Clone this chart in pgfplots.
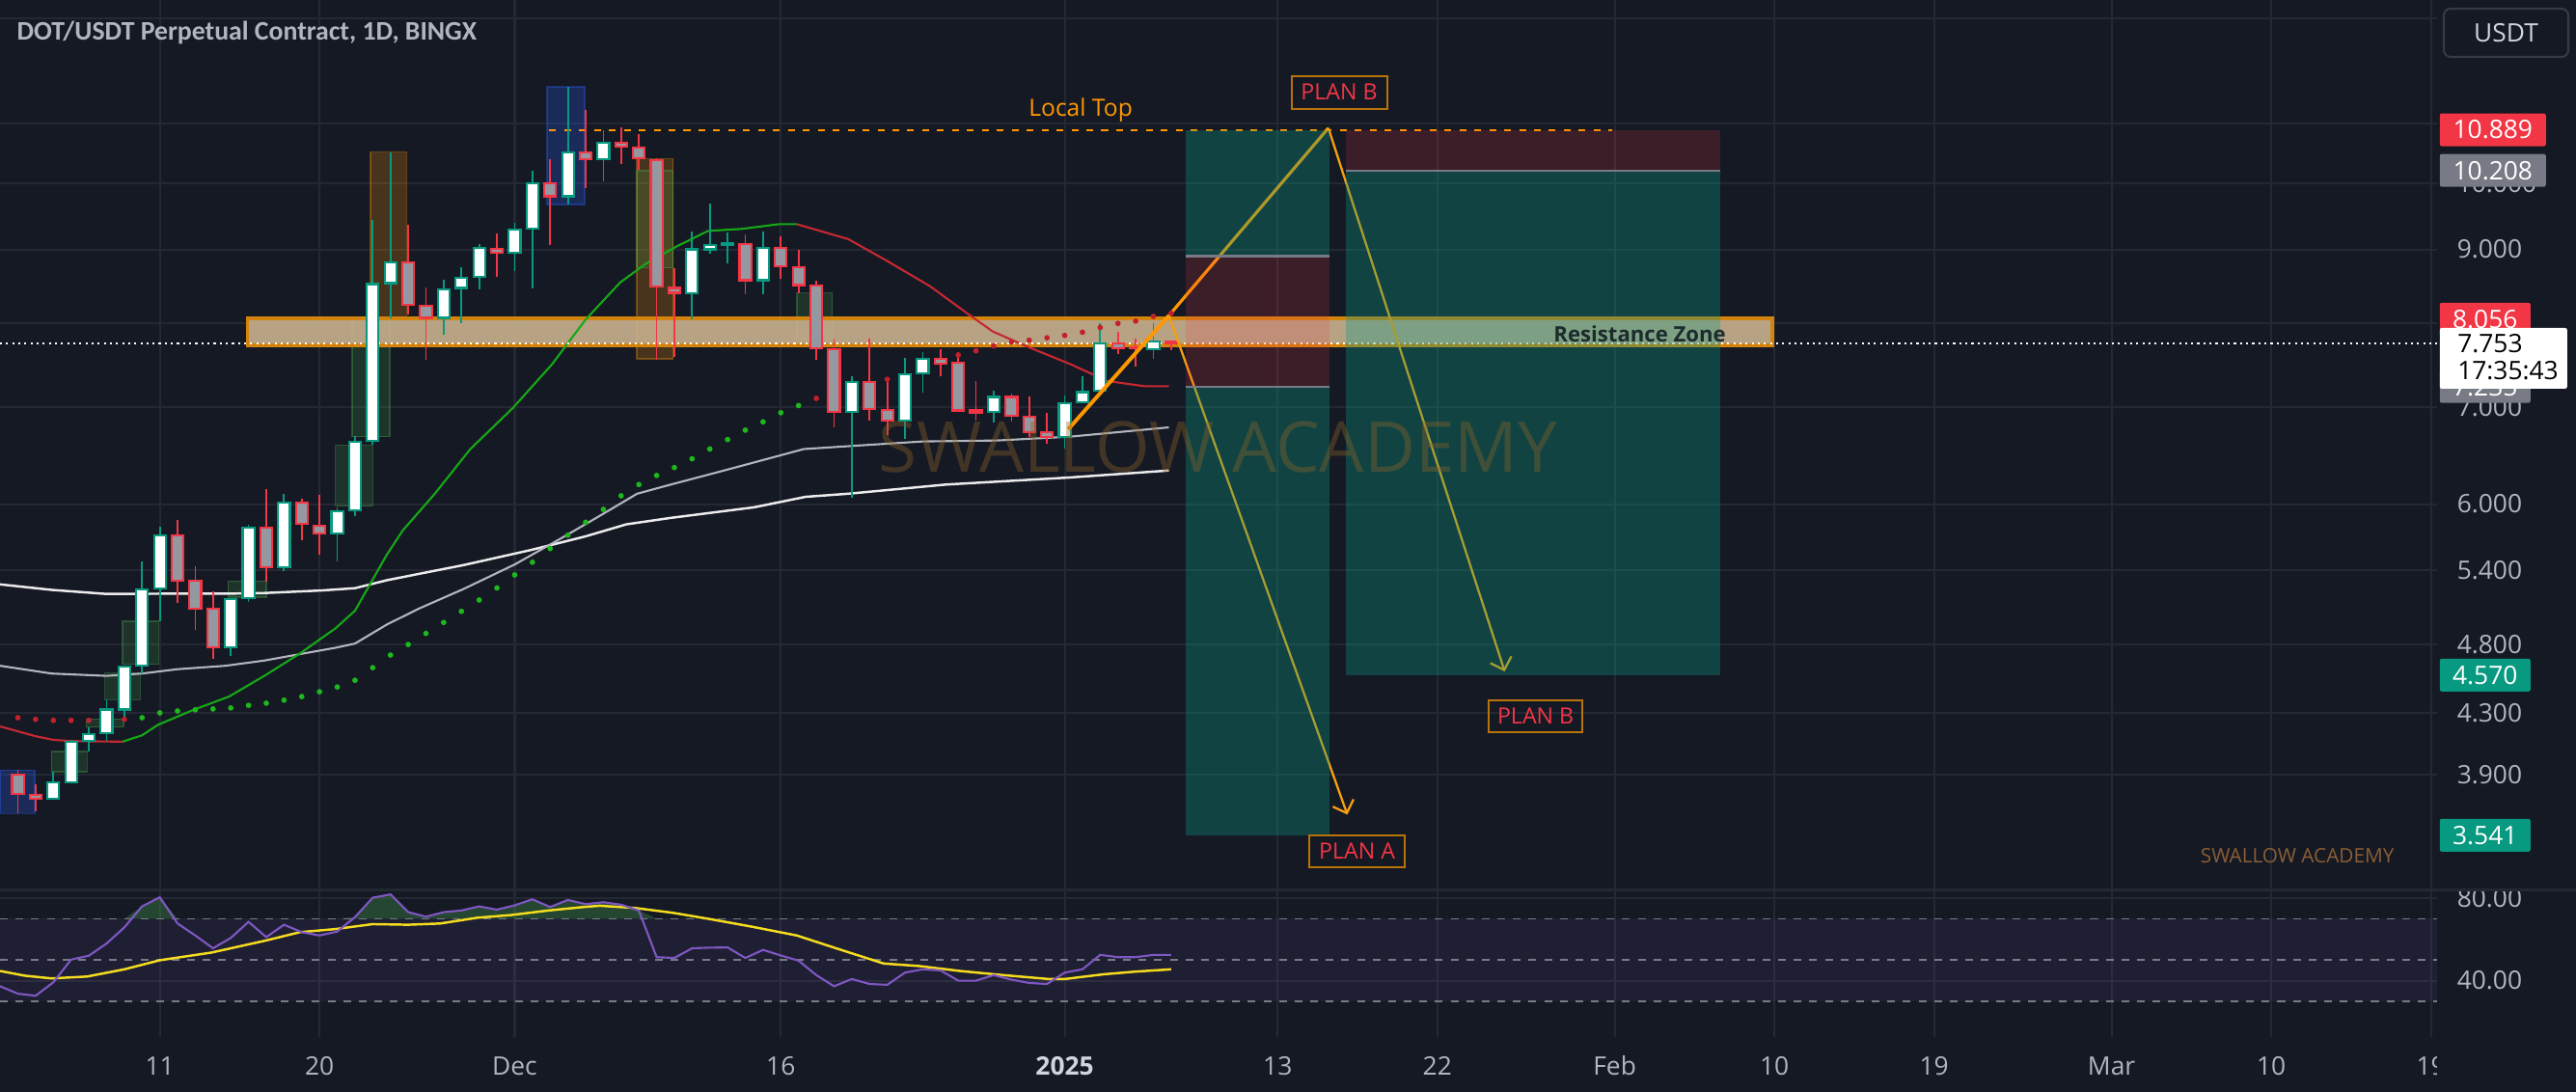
\documentclass[border=0pt]{standalone}
\usepackage{fontspec}
\setmainfont{Open Sans}
\newfontfamily\titlefont{Carlito}
\usepackage{pgfplots}
\usepackage{pgfplotstable}
\pgfplotsset{compat=1.18}
\usetikzlibrary{arrows.meta}

\definecolor{bg}{HTML}{151924}
\definecolor{gridc}{HTML}{242833}
\definecolor{tickc}{HTML}{B2B5BE}
\definecolor{upc}{HTML}{089981}
\definecolor{dnc}{HTML}{F23645}
\definecolor{dnbody}{HTML}{9598A1}
\definecolor{emag}{HTML}{16A816}
\definecolor{emar}{HTML}{C62832}
\definecolor{ma1}{HTML}{B2B5BE}
\definecolor{ma2}{HTML}{ECECEC}
\definecolor{orng}{HTML}{FF9800}
\definecolor{planc}{HTML}{F5A00F}
\definecolor{zonef}{HTML}{C9B18F}
\definecolor{zoneb}{HTML}{D4830C}
\definecolor{pgray}{HTML}{787B86}
\definecolor{rsic}{HTML}{7E57C2}
\definecolor{rsima}{HTML}{F5DC1E}
\definecolor{dotg}{HTML}{1DB81D}
\definecolor{dotr}{HTML}{C4202C}
\definecolor{hlblue}{HTML}{2962FF}
\definecolor{hlgreen}{HTML}{4CAF50}
\definecolor{planbox}{HTML}{B8730A}
\definecolor{wmark}{HTML}{8C6428}
\definecolor{wsmall}{HTML}{8B5E34}
\definecolor{zonetext}{HTML}{1C2B2B}
\definecolor{btn}{HTML}{363A45}
\definecolor{btntext}{HTML}{D1D4DC}

\newcommand\lab{\fontsize{7.5}{9}\selectfont}

% candle: day, open, high, low, close
\newcommand{\bull}[5]{%
  \addplot[upc, line width=0.5pt] coordinates {(#1,#4) (#1,#3)};
  \pgfmathsetmacro\xl{#1-0.33}\pgfmathsetmacro\xr{#1+0.33}%
  \addplot[draw=upc, fill=white, line width=0.6pt] coordinates {(\xl,#2) (\xr,#2) (\xr,#5) (\xl,#5)} -- cycle;}
\newcommand{\bear}[5]{%
  \addplot[dnc, line width=0.5pt] coordinates {(#1,#4) (#1,#3)};
  \pgfmathsetmacro\xl{#1-0.33}\pgfmathsetmacro\xr{#1+0.33}%
  \addplot[draw=dnc, fill=dnbody, line width=0.6pt] coordinates {(\xl,#2) (\xr,#2) (\xr,#5) (\xl,#5)} -- cycle;}
% highlight box: d1, d2, low, high, colour, opacity
\newcommand{\hlbox}[6]{%
  \addplot[draw=#5, draw opacity=0.35, fill=#5, fill opacity=#6, line width=0.4pt] coordinates {(#1,#3) (#2,#3) (#2,#4) (#1,#4)} -- cycle;}

\pgfplotstableread{
d r
-60 37.3
-59 33.7
-58 32.7
-57 39.2
-56 50.2
-55 52.1
-54 58.0
-53 65.8
-52 76.0
-51 80.4
-50 67.7
-49 61.9
-48 55.7
-47 60.7
-46 68.5
-45 61.1
-44 67.1
-43 63.5
-42 61.9
-41 63.8
-40 70.8
-39 80.2
-38 81.8
-37 73.2
-36 71.0
-35 73.2
-34 74.0
-33 76.0
-32 74.4
-31 76.5
-30 79.4
-29 75.7
-28 79.1
-27 77.1
-26 78.0
-25 76.8
-24 74.0
-23 51.4
-22 51.0
-21 55.7
-20 56.0
-19 56.1
-18 51.0
-17 54.9
-16 52.2
-15 49.7
-14 42.7
-13 37.3
-12 40.8
-11 38.4
-10 38.0
-9 43.9
-8 45.5
-7 45.0
-6 40.0
-5 40.0
-4 42.7
-3 40.5
-2 38.9
-1 38.4
0 43.9
1 45.5
2 52.5
3 51.4
4 51.4
5 52.5
6 52.5
}\rsitab

\begin{document}
\begin{tikzpicture}
\useasboundingbox (0,0) rectangle (26.70,11.32);
\fill[bg] (0,0) rectangle (26.70,11.32);

% ---------------- price pane ----------------
\begin{axis}[
  at={(0cm,2.093cm)}, anchor=south west, scale only axis,
  width=25.26cm, height=9.227cm,
  xmin=-60.007, xmax=77.35,
  ymode=log, ymin=3.245, ymax=13.39,
  clip=false,
  axis line style={draw=none}, tick style={draw=none},
  xtick={-51,-42,-31,-16,0,12,21,31,40,49,59,68,77}, xticklabels={},
  ytick={3.9,4.3,4.8,5.4,6,7,8,9,10,11,13},
  yticklabels={3.900,4.300,4.800,5.400,6.000,7.000,8.000,9.000,10.000,{},{}},
  yticklabel pos=right,
  yticklabel style={anchor=west, inner sep=0pt, xshift=0.2cm, text=tickc, font=\lab},
  grid=major, major grid style={gridc, line width=0.6pt},
]
% indicator highlight boxes
\hlbox{-60.0}{-58.05}{3.666}{3.929}{hlblue}{0.25}
\hlbox{-29.17}{-27.05}{9.67}{11.66}{hlblue}{0.25}
\hlbox{-39.13}{-37.09}{8.07}{10.51}{orng}{0.22}
\hlbox{-24.13}{-22.07}{7.56}{10.40}{orng}{0.22}
\hlbox{-24.13}{-22.07}{8.74}{10.20}{hlgreen}{0.18}
\hlbox{-40.15}{-38.04}{6.68}{8.06}{hlgreen}{0.18}
\hlbox{-41.1}{-39.0}{5.98}{6.59}{hlgreen}{0.18}
\hlbox{-53.1}{-51.07}{4.648}{4.978}{hlgreen}{0.18}
\hlbox{-54.1}{-52.1}{4.395}{4.586}{hlgreen}{0.18}
\hlbox{-55.15}{-53.05}{4.207}{4.261}{hlgreen}{0.18}
\hlbox{-57.1}{-55.1}{3.919}{4.046}{hlgreen}{0.18}
\hlbox{-47.15}{-45.0}{5.173}{5.307}{hlgreen}{0.18}
\hlbox{-15.1}{-13.1}{7.80}{8.40}{hlgreen}{0.18}

% resistance zone
\addplot[draw=zoneb, line width=0.95pt, fill=zonef, fill opacity=0.9]
  coordinates {(-46.07,7.727) (39.88,7.727) (39.88,8.065) (-46.07,8.065)} -- cycle;

% moving averages
\addplot[ma2, line width=0.7pt] coordinates {
(-60,5.280) (-57.1,5.234) (-54,5.200) (-50.9,5.202) (-47.3,5.202) (-45.1,5.208)
(-41.9,5.229) (-40,5.248) (-38.2,5.315) (-36.4,5.369) (-33.9,5.444) (-30,5.58)
(-27,5.70) (-24.7,5.81) (-22.2,5.87) (-17.5,5.97) (-14.6,6.07) (-12.2,6.10)
(-6.7,6.19) (0.3,6.26) (5.87,6.33)};
\addplot[ma1, line width=0.6pt] coordinates {
(-60,4.638) (-57.1,4.581) (-54,4.564) (-52,4.581) (-50,4.613) (-47.3,4.638)
(-45.1,4.677) (-43.1,4.725) (-41.1,4.773) (-40,4.805) (-38.2,4.953) (-36.4,5.080)
(-33.9,5.240) (-31,5.45) (-28.4,5.68) (-26.5,5.86) (-24.1,6.10) (-22.2,6.19)
(-19.2,6.33) (-14.7,6.55) (-12.2,6.58) (-8,6.63) (-3.85,6.64) (0.3,6.68) (5.87,6.78)};
\addplot[emar, line width=0.6pt] coordinates {
(-60,4.211) (-58,4.146) (-57,4.122) (-56,4.114) (-53.1,4.110)};
\addplot[emag, line width=0.6pt] coordinates {
(-53.1,4.110) (-52,4.152) (-51.1,4.222) (-49.1,4.324) (-47.1,4.416) (-45.1,4.565)
(-43.1,4.730) (-41.1,4.923) (-40,5.063) (-38.2,5.537) (-37.3,5.755) (-35.5,6.10)
(-33.5,6.55) (-31.1,6.993) (-28.9,7.496) (-27,8.05) (-25.05,8.54) (-23.6,8.80)
(-21.9,9.04) (-20.1,9.27) (-18.2,9.30) (-16.1,9.37) (-15.1,9.37)};
\addplot[emar, line width=0.6pt] coordinates {
(-15.1,9.37) (-12.2,9.15) (-10.1,8.85) (-7.6,8.49) (-5.5,8.13) (-4.06,7.90)
(-1.98,7.70) (0.31,7.50) (2.4,7.30) (4.48,7.24) (5.87,7.24)};

% trailing dots
\addplot[dotg, only marks, mark=*, mark size=0.6pt, mark options={draw=dotg, fill=dotg}] coordinates {
(-52,4.270) (-51,4.303) (-50,4.316) (-49,4.324) (-48,4.330) (-47,4.337) (-46,4.355)
(-45,4.370) (-44,4.391) (-43,4.416) (-42,4.450) (-41,4.484) (-40,4.532) (-39,4.624)
(-38,4.718) (-37,4.798) (-36,4.883) (-35,4.969) (-34,5.058) (-33,5.15) (-32,5.25)
(-31,5.36) (-30,5.47) (-29,5.59) (-28,5.71) (-27,5.829) (-26,5.95) (-25,6.08)
(-24,6.19) (-23,6.28) (-22,6.36) (-21,6.45) (-20,6.55) (-19,6.65) (-18,6.75)
(-17,6.84) (-16,6.94) (-15,7.02)};
\addplot[dotr, only marks, mark=*, mark size=0.6pt, mark options={draw=dotr, fill=dotr}] coordinates {
(-59,4.270) (-58,4.259) (-57,4.252) (-56,4.252) (-55,4.252) (-53,4.259)
(-14,7.10) (-10,7.32) (-6,7.61) (-5,7.66) (-4,7.72) (-3,7.77) (-2,7.79) (-1,7.82)
(0,7.85) (1,7.89) (2,7.95) (3,8.00) (4,8.03) (5,8.09) (6,8.13)};

% local top and last price
\addplot[orng, line width=0.6pt, dash pattern=on 2pt off 2.4pt] coordinates {(-29.05,10.889) (30.85,10.889)};
\addplot[white, line width=0.6pt, dash pattern=on 0.6pt off 1.2pt] coordinates {(-60.007,7.753) (77.35,7.753)};

% candles
\bear{-59}{3.903}{3.929}{3.666}{3.781}
\bear{-58}{3.777}{3.840}{3.679}{3.752}
\bull{-57}{3.752}{3.919}{3.752}{3.853}
\bull{-56}{3.855}{4.124}{3.855}{4.110}
\bull{-55}{4.114}{4.207}{4.048}{4.162}
\bull{-54}{4.164}{4.393}{4.114}{4.326}
\bull{-53}{4.326}{4.641}{4.254}{4.634}
\bull{-52}{4.636}{5.477}{4.581}{5.240}
\bull{-51}{5.243}{5.785}{4.978}{5.712}
\bear{-50}{5.712}{5.850}{5.128}{5.310}
\bear{-49}{5.307}{5.434}{4.910}{5.077}
\bear{-48}{5.077}{5.220}{4.689}{4.779}
\bull{-47}{4.779}{5.168}{4.713}{5.160}
\bull{-46}{5.163}{5.806}{5.136}{5.782}
\bear{-45}{5.782}{6.145}{5.302}{5.426}
\bull{-44}{5.426}{6.098}{5.393}{6.011}
\bear{-43}{6.011}{6.048}{5.667}{5.815}
\bear{-42}{5.800}{6.088}{5.537}{5.727}
\bull{-41}{5.727}{5.965}{5.477}{5.934}
\bull{-40}{5.945}{6.687}{5.890}{6.626}
\bull{-39}{6.636}{9.437}{6.592}{8.517}
\bull{-38}{8.530}{10.508}{8.071}{8.818}
\bear{-37}{8.818}{9.364}{8.112}{8.246}
\bear{-36}{8.229}{8.473}{7.550}{8.071}
\bull{-35}{8.071}{8.574}{7.855}{8.443}
\bull{-34}{8.465}{8.750}{8.009}{8.605}
\bull{-33}{8.618}{9.081}{8.452}{9.025}
\bear{-32}{9.011}{9.231}{8.614}{8.956}
\bull{-31}{8.956}{9.388}{8.702}{9.292}
\bull{-30}{9.306}{10.204}{8.465}{9.998}
\bear{-29}{9.998}{10.390}{9.066}{9.796}
\bull{-28}{9.796}{11.660}{9.671}{10.508}
\bear{-27}{10.508}{11.242}{9.922}{10.385}
\bull{-26}{10.385}{10.880}{10.024}{10.669}
\bear{-25}{10.669}{10.935}{10.320}{10.604}
\bear{-24}{10.588}{10.818}{10.224}{10.403}
\bear{-23}{10.377}{10.403}{7.550}{8.482}
\bear{-22}{8.465}{8.737}{7.589}{8.400}
\bull{-21}{8.396}{9.268}{8.050}{9.001}
\bull{-20}{9.001}{9.680}{8.941}{9.067}
\bull{-19}{9.058}{9.244}{8.804}{9.090}
\bear{-18}{9.081}{9.221}{8.378}{8.570}
\bull{-17}{8.570}{9.268}{8.386}{9.025}
\bear{-16}{9.025}{9.197}{8.596}{8.760}
\bear{-15}{8.750}{8.988}{8.396}{8.504}
\bear{-14}{8.495}{8.561}{7.550}{7.696}
\bear{-13}{7.681}{7.807}{6.781}{6.950}
\bull{-12}{6.950}{7.360}{6.058}{7.292}
\bear{-11}{7.292}{7.807}{6.851}{6.986}
\bear{-10}{6.975}{7.285}{6.694}{6.858}
\bull{-9}{6.858}{7.573}{6.660}{7.378}
\bull{-8}{7.390}{7.642}{7.161}{7.561}
\bear{-7}{7.561}{7.681}{7.360}{7.507}
\bear{-6}{7.515}{7.611}{6.958}{6.965}
\bear{-5}{6.965}{7.304}{6.858}{6.943}
\bull{-4}{6.947}{7.183}{6.834}{7.117}
\bear{-3}{7.117}{7.154}{6.841}{6.905}
\bear{-2}{6.895}{7.117}{6.676}{6.731}
\bear{-1}{6.728}{6.941}{6.601}{6.680}
\bull{0}{6.680}{7.135}{6.557}{7.045}
\bull{1}{7.056}{7.360}{7.056}{7.172}
\bull{2}{7.190}{8.001}{7.172}{7.754}
\bear{3}{7.746}{7.895}{7.618}{7.696}
\bear{4}{7.708}{7.807}{7.475}{7.688}
\bull{5}{7.681}{8.001}{7.561}{7.773}
\bear{6}{7.773}{7.787}{7.669}{7.753}

% plan lines
\addplot[orng, line width=1.1pt] coordinates {(0.2,6.76) (5.87,8.10)};
\addplot[orng, line width=0.9pt] coordinates {(5.87,8.10) (14.86,10.92)};
\addplot[planc, line width=0.65pt, -{Straight Barb[length=3.2pt,width=6.5pt]}] coordinates {(14.86,10.92) (24.8,4.596)};
\addplot[planc, line width=0.65pt, -{Straight Barb[length=3.2pt,width=6.5pt]}] coordinates {(5.87,8.10) (15.93,3.66)};

% position tools
\addplot[draw=none, fill=upc, fill opacity=0.33] coordinates {(6.83,8.905) (14.91,8.905) (14.91,10.889) (6.83,10.889)} -- cycle;
\addplot[draw=none, fill=dnc, fill opacity=0.18] coordinates {(6.83,7.235) (14.91,7.235) (14.91,8.905) (6.83,8.905)} -- cycle;
\addplot[draw=none, fill=upc, fill opacity=0.33] coordinates {(6.83,3.541) (14.91,3.541) (14.91,7.235) (6.83,7.235)} -- cycle;
\addplot[draw=none, fill=dnc, fill opacity=0.18] coordinates {(15.86,10.208) (36.95,10.208) (36.95,10.889) (15.86,10.889)} -- cycle;
\addplot[draw=none, fill=upc, fill opacity=0.33] coordinates {(15.86,4.570) (36.95,4.570) (36.95,10.208) (15.86,10.208)} -- cycle;
\addplot[pgray, line width=0.6pt] coordinates {(6.83,8.905) (14.91,8.905)};
\addplot[pgray, line width=0.6pt] coordinates {(6.83,7.235) (14.91,7.235)};
\addplot[pgray, line width=0.6pt] coordinates {(15.86,10.208) (36.95,10.208)};

% texts
\node[text=wmark, text opacity=0.38, font=\fontsize{20.7}{24}\selectfont] at (axis cs:8.63,6.57) {SWALLOW ACADEMY};
\node[text=orng, font=\fontsize{7}{8}\selectfont] at (axis cs:0.9,11.24) {Local Top};
\node[draw=planbox, line width=0.6pt, text=dnc, font=\fontsize{6.6}{8}\selectfont, minimum width=0.99cm, minimum height=0.34cm, inner sep=0pt] at (axis cs:15.47,11.56) {PLAN B};
\node[draw=planbox, line width=0.6pt, text=dnc, font=\fontsize{6.6}{8}\selectfont, minimum width=0.97cm, minimum height=0.33cm, inner sep=0pt] at (axis cs:26.54,4.282) {PLAN B};
\node[draw=planbox, line width=0.6pt, text=dnc, font=\fontsize{6.6}{8}\selectfont, minimum width=0.99cm, minimum height=0.33cm, inner sep=0pt] at (axis cs:16.48,3.451) {PLAN A};
\node[anchor=east, inner sep=0pt, text=zonetext, font=\bfseries\fontsize{6.3}{7}\selectfont] at (axis cs:37.3,7.87) {Resistance Zone};
\node[text=wsmall, font=\fontsize{5.9}{7}\selectfont] at (axis cs:69.47,3.43) {SWALLOW ACADEMY};

\coordinate (pA) at (axis cs:77.46,10.889);
\coordinate (pB) at (axis cs:77.46,10.208);
\coordinate (pC) at (axis cs:77.46,8.056);
\coordinate (pD) at (axis cs:77.46,7.753);
\coordinate (pE) at (axis cs:77.46,7.235);
\coordinate (pF) at (axis cs:77.46,4.570);
\coordinate (pG) at (axis cs:77.46,3.541);
\end{axis}

% ---------------- RSI pane ----------------
\begin{axis}[
  at={(0cm,0.57cm)}, anchor=south west, scale only axis,
  width=25.26cm, height=1.523cm,
  xmin=-60.007, xmax=77.35, ymin=12.71, ymax=83.88,
  axis line style={draw=none}, tick style={draw=none},
  xtick={-51,-42,-31,-16,0,12,21,31,40,49,59,68,77},
  xticklabels={11,20,Dec,16,{\textcolor{btntext}{\bfseries 2025}},13,22,Feb,10,19,Mar,10,19},
  xticklabel style={anchor=base, yshift=-0.40cm, inner sep=0pt, text=tickc, font=\lab},
  ytick={40,80}, yticklabels={40.00,80.00},
  yticklabel pos=right,
  yticklabel style={anchor=west, inner sep=0pt, xshift=0.2cm, text=tickc, font=\lab},
  grid=major, major grid style={gridc, line width=0.6pt},
]
\addplot[draw=none, fill=rsic, fill opacity=0.1] coordinates {(-60.007,30) (77.35,30) (77.35,70) (-60.007,70)} -- cycle;
\addplot[pgray, line width=0.5pt, dash pattern=on 2.3pt off 2.3pt] coordinates {(-60.007,70) (77.35,70)};
\addplot[pgray, line width=0.5pt, dash pattern=on 2.3pt off 2.3pt] coordinates {(-60.007,50) (77.35,50)};
\addplot[pgray, line width=0.5pt, dash pattern=on 2.3pt off 2.3pt] coordinates {(-60.007,30) (77.35,30)};
\addplot[draw=none, fill=hlgreen, fill opacity=0.3] table[x=d, y expr={max(\thisrow{r},70)}] {\rsitab} -- cycle;
\addplot[rsima, line width=0.7pt] coordinates {
(-60,44.7) (-58.6,42.4) (-57.1,41.1) (-55.1,42.0) (-53,45.5) (-51,49.9) (-48.1,53.6)
(-45.1,59.3) (-43.1,63.5) (-41.1,65.0) (-39,67.4) (-37,67.1) (-35.2,67.7) (-33.1,70.5)
(-31.2,71.8) (-29.1,74.0) (-27.1,75.7) (-26.2,76.3) (-24.2,75.2) (-22.1,72.9)
(-19.9,69.7) (-17.6,66.1) (-15.1,61.9) (-12.6,54.9) (-10.2,48.3) (-8.2,47.1)
(-5.9,44.7) (-3.6,42.8) (-0.9,40.8) (0,40.8) (2.2,43.1) (4,44.4) (6,45.5)};
\addplot[rsic, line width=0.6pt] table[x=d, y=r] {\rsitab};
\end{axis}

% pane separator, label mask
\draw[gridc, line width=0.8pt] (0,2.093) -- (26.70,2.093);
\fill[bg] (25.26,0) rectangle (26.70,0.57);

% price scale labels
\node[fill=dnc, text=white, anchor=west, inner sep=0pt, minimum width=1.10cm, minimum height=0.34cm, rounded corners=0.6pt, font=\lab] at (pA) {10.889};
\node[fill=pgray, text=white, anchor=west, inner sep=0pt, minimum width=1.10cm, minimum height=0.34cm, rounded corners=0.6pt, font=\lab] at (pB) {10.208};
\node[fill=dnc, text=white, anchor=west, inner sep=0pt, minimum width=0.94cm, minimum height=0.34cm, rounded corners=0.6pt, font=\lab] at (pC) {8.056};
\node[fill=pgray, text=white, anchor=west, inner sep=0pt, minimum width=0.94cm, minimum height=0.34cm, rounded corners=0.6pt, font=\lab] at (pE) {7.235};
\node[fill=white, anchor=north west, inner sep=0pt, minimum width=1.32cm, minimum height=0.63cm, rounded corners=0.6pt] at ([yshift=0.166cm]pD) {};
\node[anchor=west, inner sep=0pt, text=black, font=\lab] at ([xshift=0.185cm]pD) {7.753};
\node[anchor=west, inner sep=0pt, text=black, font=\lab] at ([xshift=0.185cm,yshift=-0.28cm]pD) {17:35:43};
\node[fill=upc, text=white, anchor=west, inner sep=0pt, minimum width=0.94cm, minimum height=0.34cm, rounded corners=0.6pt, font=\lab] at (pF) {4.570};
\node[fill=upc, text=white, anchor=west, inner sep=0pt, minimum width=0.94cm, minimum height=0.34cm, rounded corners=0.6pt, font=\lab] at (pG) {3.541};

% currency button and title
\draw[btn, line width=0.6pt, rounded corners=2pt, fill=bg] (25.33,10.73) rectangle (26.62,11.23);
\node[text=btntext, font=\lab] at (25.975,10.98) {USDT};
\node[anchor=base west, inner sep=0pt, text=tickc, font=\titlefont\bfseries\fontsize{7.9}{9}\selectfont] at (0.17,10.903) {DOT/USDT Perpetual Contract, 1D, BINGX};
\end{tikzpicture}
\end{document}
